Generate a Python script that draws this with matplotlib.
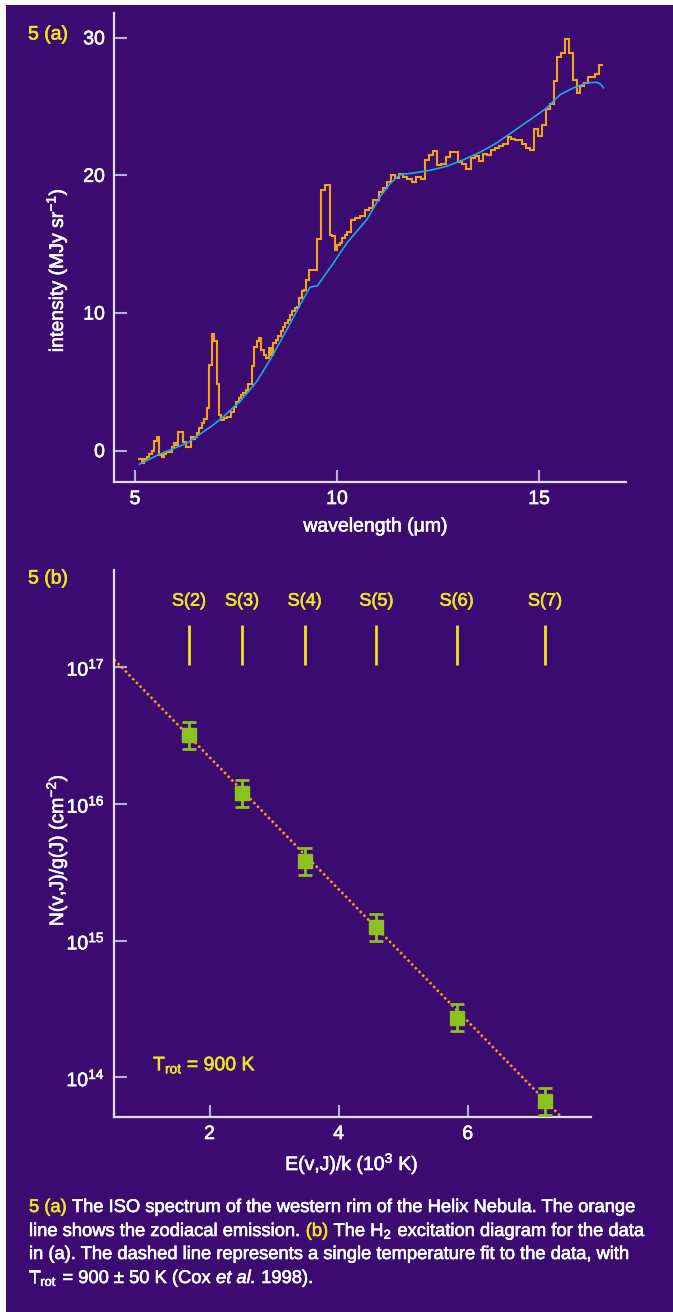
import matplotlib
matplotlib.use("Agg")
import matplotlib.pyplot as plt
import matplotlib.patheffects as pe
import numpy as np
from matplotlib import font_manager
from matplotlib.patches import Rectangle
from matplotlib.text import Text
from matplotlib.ticker import LogLocator, NullLocator, LogFormatterMathtext

# narrow Helvetica-like face if there is one, otherwise the regular one
_names = {f.name for f in font_manager.fontManager.ttflist}
BASE = "Liberation Sans Narrow" if "Liberation Sans Narrow" in _names else "Liberation Sans"

plt.rcParams["font.family"] = [BASE, "DejaVu Sans"]
plt.rcParams["mathtext.fontset"] = "custom"
plt.rcParams["mathtext.rm"] = BASE
plt.rcParams["mathtext.it"] = BASE + ":italic"
plt.rcParams["mathtext.bf"] = BASE + ":bold"

PURPLE = "#3c0b72"
YELLOW = "#f2e41c"
ORANGE = "#f2a414"
BLUE = "#1ea8e8"
GREEN = "#8cc21e"
AXIS = "#e4dcf0"
TICK = "#bcaed4"
WHITE = "white"

# (a) ISO spectrum: bin edges (um) and intensities (MJy/sr)
spec_edges = [5.066, 5.165, 5.231, 5.289, 5.355, 5.413, 5.471, 5.537, 5.603, 5.660,
              5.718, 5.768, 5.908, 5.966, 6.024, 6.073, 6.188, 6.255, 6.378, 6.436,
              6.486, 6.543, 6.593, 6.651, 6.717, 6.774, 6.840, 6.898, 6.964, 7.022,
              7.080, 7.137, 7.203, 7.269, 7.385, 7.443, 7.509, 7.566, 7.624, 7.682,
              7.740, 7.806, 7.888, 7.954, 8.012, 8.070, 8.128, 8.185, 8.243, 8.309,
              8.367, 8.425, 8.482, 8.548, 8.606, 8.664, 8.721, 8.779, 8.837, 8.895,
              8.953, 9.010, 9.068, 9.126, 9.184, 9.241, 9.299, 9.497, 9.596, 9.703,
              9.827, 9.884, 9.950, 10.008, 10.074, 10.132, 10.198, 10.256, 10.340, 10.450,
              10.570, 10.680, 10.800, 10.900, 11.030, 11.130, 11.230, 11.328, 11.444, 11.543,
              11.642, 11.741, 11.848, 11.955, 12.071, 12.178, 12.277, 12.384, 12.483, 12.582,
              12.689, 12.788, 13.003, 13.102, 13.201, 13.308, 13.407, 13.506, 13.605, 13.713,
              13.811, 13.919, 14.018, 14.117, 14.224, 14.307, 14.406, 14.587, 14.678, 14.785,
              14.876, 14.975, 15.074, 15.165, 15.264, 15.363, 15.445, 15.536, 15.635, 15.751,
              15.833, 15.932, 16.023, 16.114, 16.221, 16.386, 16.485, 16.592]
spec_values = [-0.58, -0.92, -0.63, -0.43, -0.24, 0.00, 0.73, 0.97, -0.34, -0.43,
               -0.24, -0.07, 0.29, 0.58, 0.39, 1.36, 0.66, 0.24, 1.02, 0.83,
               0.97, 1.26, 1.65, 1.99, 2.28, 3.13, 6.23, 8.46, 7.93, 4.83,
               2.57, 2.23, 2.35, 2.47, 2.84, 3.15, 3.54, 3.81, 4.05, 4.22,
               4.41, 4.85, 6.16, 7.52, 7.93, 8.17, 7.32, 6.96, 6.72, 7.44,
               6.96, 7.81, 8.05, 8.34, 8.66, 8.97, 9.26, 9.51, 9.87, 10.18,
               10.35, 10.47, 11.08, 11.57, 11.69, 12.41, 13.14, 15.37, 18.96, 19.27,
               15.69, 15.56, 14.60, 14.96, 15.08, 15.44, 15.69, 15.86, 16.73, 16.90,
               17.07, 17.46, 17.65, 18.23, 18.79, 19.08, 19.49, 20.00, 19.81, 20.10,
               19.86, 19.76, 19.50, 19.88, 19.76, 21.14, 21.46, 21.75, 20.73, 20.83,
               21.31, 21.73, 20.95, 20.83, 20.46, 21.24, 21.39, 21.07, 21.58, 21.46,
               21.87, 21.99, 22.11, 22.31, 22.79, 22.67, 22.55, 22.31, 21.99, 21.82,
               23.37, 22.84, 23.64, 24.83, 25.19, 26.89, 28.59, 28.90, 29.94, 28.90,
               26.91, 25.99, 26.53, 26.72, 27.13, 27.40, 28.00]

# zodiacal emission
zodi_wl = [5.107, 5.619, 6.279, 6.939, 7.187, 7.599, 8.012, 8.342, 8.755, 9.085,
           9.332, 9.514, 9.910, 10.240, 10.735, 11.065, 11.310, 11.560, 11.890, 12.300,
           12.710, 13.130, 13.540, 13.950, 14.364, 14.777, 15.190, 15.354, 15.520, 15.850,
           16.180, 16.430, 16.530, 16.590]
zodi_int = [-0.99, -0.24, 0.53, 1.87, 2.47, 3.57, 5.02, 6.60, 8.78, 10.60,
            11.88, 11.98, 13.63, 15.08, 16.78, 18.45, 19.40, 20.05, 20.17, 20.37,
            20.66, 21.14, 21.68, 22.36, 23.20, 24.05, 24.90, 25.39, 25.87, 26.36,
            26.72, 26.77, 26.60, 26.36]

# (b) H2 excitation diagram
lines = ["S(2)", "S(3)", "S(4)", "S(5)", "S(6)", "S(7)"]
e_up = [1.682, 2.504, 3.474, 4.586, 5.829, 7.197]          # 10^3 K
n_over_g = [3.16e16, 1.19e16, 3.78e15, 1.25e15, 2.73e14, 6.7e13]  # cm^-2
err_dex = [0.098, 0.098, 0.098, 0.098, 0.098, 0.098]
T_ROT = 900
fit_log_n0 = 17.305

W, H = 673, 1312
FS = 14


def fx(px):
    return px / W


def fy(py):
    return 1 - py / H


fig = plt.figure(figsize=(W / 100, H / 100), dpi=100, facecolor="white")
fig.add_artist(Rectangle((fx(6), 0), 1, fy(5), transform=fig.transFigure,
                         facecolor=PURPLE, edgecolor="none", zorder=-10))


def style(ax):
    ax.set_facecolor("none")
    for side in ("top", "right"):
        ax.spines[side].set_visible(False)
    for side in ("left", "bottom"):
        ax.spines[side].set_color(AXIS)
        ax.spines[side].set_linewidth(1.6)
    ax.tick_params(direction="in", length=9, width=1.5, color=TICK,
                   labelcolor=WHITE, labelsize=FS, pad=6.5)


# ---- (a) spectrum
ax1 = fig.add_axes([fx(114), fy(482), fx(626 - 114), (482 - 13) / H])
style(ax1)
ax1.stairs(spec_values, spec_edges, baseline=None, color=ORANGE, lw=1.5)
ax1.plot(zodi_wl, zodi_int, color=BLUE, lw=1.2)
ax1.set_xlim(4.48, 17.15)
ax1.set_ylim(-2.28, 31.8)
ax1.set_xticks([5, 10, 15])
ax1.set_yticks([0, 10, 20, 30])
ax1.xaxis.get_major_ticks()[1].tick1line.set_color(WHITE)
ax1.set_xlabel("wavelength (\u03bcm)", color=WHITE, fontsize=FS)
ax1.set_ylabel("intensity (MJy sr$^{-1}$)", color=WHITE, fontsize=FS)
ax1.xaxis.set_label_coords((376 - 114) / 512, -(527 - 482) / 469)
ax1.xaxis.label.set_va("center")
ax1.yaxis.set_label_coords((57 - 114) / 512, (482 - 270) / 469)
ax1.yaxis.label.set_va("center")

# ---- (b) excitation diagram
ax2 = fig.add_axes([fx(114), fy(1117), fx(591 - 114), (1117 - 570) / H])
style(ax2)
ax2.set_yscale("log")
ax2.set_xlim(0.52, 7.91)
ax2.set_ylim(10 ** 13.71, 10 ** 17.708)

e_fit = np.linspace(0.52, 7.91, 100)
ax2.plot(e_fit, 10 ** (fit_log_n0 - e_fit * 1000 / (T_ROT * np.log(10))),
         color=ORANGE, lw=1.8, dashes=(1, 1.1), zorder=2)

n = np.array(n_over_g)
err = np.array(err_dex)
ax2.errorbar(e_up, n, yerr=[n - n * 10 ** -err, n * 10 ** err - n], fmt="s",
             ms=9.5, color=GREEN, ecolor=GREEN, elinewidth=2, capsize=5,
             capthick=2, zorder=3)

ax2.vlines(e_up, 10 ** 17.015, 10 ** 17.307, color=YELLOW, lw=2)
for e, name in zip(e_up, lines):
    ax2.text(e, 10 ** 17.48, name, color=YELLOW, fontsize=13,
             ha="center", va="center")
ax2.text(1.124, 10 ** 14.088, f"T$_{{\\mathrm{{rot}}}}$ = {T_ROT} K",
         color=YELLOW, fontsize=FS, ha="left", va="center")

ax2.set_xticks([2, 4, 6])
ax2.yaxis.set_major_locator(LogLocator(base=10, numticks=10))
ax2.yaxis.set_major_formatter(LogFormatterMathtext())
ax2.yaxis.set_minor_locator(NullLocator())
ax2.set_xlabel("E(v,J)/k (10$^3$ K)", color=WHITE, fontsize=FS)
ax2.set_ylabel("N(v,J)/g(J) (cm$^{-2}$)", color=WHITE, fontsize=FS)
ax2.xaxis.set_label_coords((352 - 114) / 477, -(1164 - 1117) / 547)
ax2.xaxis.label.set_va("center")
ax2.yaxis.set_label_coords((57 - 114) / 477, (1117 - 850) / 547)
ax2.yaxis.label.set_va("center")

# panel tags
fig.text(fx(28), fy(35), "5 (a)", color=YELLOW, fontsize=14, va="center")
fig.text(fx(28), fy(579), "5 (b)", color=YELLOW, fontsize=14, va="center")

# caption, drawn piece by piece so colours and styles can change mid-line
renderer = fig.canvas.get_renderer()


def width_of(s, size, style="normal"):
    t = fig.text(0, 0, s, fontsize=size, style=style)
    w = t.get_window_extent(renderer).width
    t.remove()
    return w


# (text, colour, style, space before it)
caption = [
    (1206, [("5 (a)", YELLOW, "normal", False),
            ("The ISO spectrum of the western rim of the Helix Nebula. The orange", WHITE, "normal", True)]),
    (1230, [("line shows the zodiacal emission.", WHITE, "normal", False),
            ("(b)", YELLOW, "normal", True),
            ("The H", WHITE, "normal", True),
            ("$_2$", WHITE, "normal", False),
            ("excitation diagram for the data", WHITE, "normal", True)]),
    (1253, [("in (a). The dashed line represents a single temperature fit to the data, with", WHITE, "normal", False)]),
    (1277, [("T", WHITE, "normal", False),
            ("$_{\\mathrm{rot}}$", WHITE, "normal", False),
            ("= 900 \u00b1 50 K (Cox", WHITE, "normal", True),
            ("et al.", WHITE, "italic", True),
            ("1998).", WHITE, "normal", True)]),
]

# size the caption so its first line runs from x=29 to x=638
first = " ".join(p[0] for p in caption[0][1])
CAP = 14 * 609 / width_of(first, 14)
space = width_of("a a", CAP) - width_of("aa", CAP)

for py, parts in caption:
    x = 29
    for s, color, st, gap in parts:
        if gap:
            x += space
        t = fig.text(fx(x), fy(py), s, color=color, fontsize=CAP, style=st,
                     va="baseline")
        t.set_y(fy(py + 6))
        x += t.get_window_extent(renderer).width

# the printed lettering is a little heavier than Liberation's regular weight;
# draw once first so the tick labels exist
fig.canvas.draw()
for t in fig.findobj(Text):
    if t.get_text():
        t.set_path_effects([pe.withStroke(linewidth=0.45, foreground=t.get_color())])

fig.savefig("out.png", dpi=100, facecolor=fig.get_facecolor())
